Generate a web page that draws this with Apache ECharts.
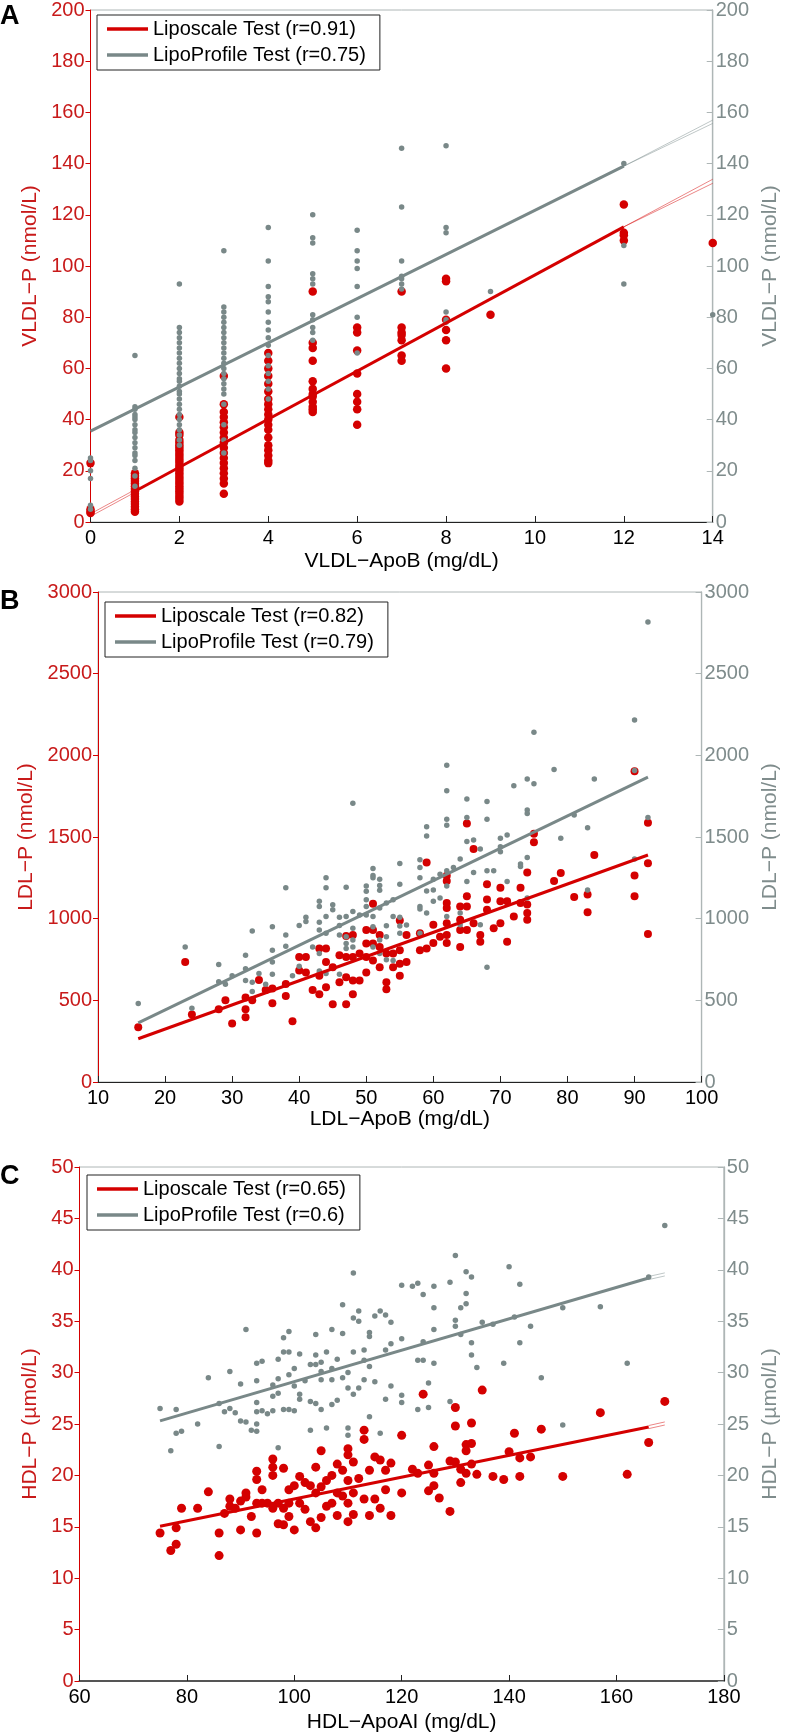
<!DOCTYPE html>
<html><head><meta charset="utf-8">
<script src="https://cdn.jsdelivr.net/npm/echarts@6/dist/echarts.min.js"></script>
<style>html,body{margin:0;padding:0;background:#fff}#c{width:789px;height:1734px}</style>
</head><body><div id="c"></div>
<script>
// ---------- Panel A: VLDL (columns: [x, [y values]]) ----------
const vldlRedCols = [
  [0, [23, 5, 4, 3.5]],
  [1, [19, 18, 17, 16, 15, 14, 13, 12, 11, 10, 9, 8, 7, 6, 5, 4]],
  [2, [41, 35, 34, 32, 31, 30, 29, 28, 27, 26, 25, 24, 23, 22, 21, 20, 19, 18, 17, 16, 15, 14, 13, 12, 11, 10, 9, 8]],
  [3, [57, 46, 43, 41, 39, 37, 35, 33, 31, 29, 27, 25, 23, 21, 19, 17, 15, 11]],
  [4, [66, 63, 60, 57, 54, 51, 48, 46, 44, 42, 40, 38, 36, 33, 30, 28, 26, 24, 23]],
  [5, [90, 70, 68, 63, 55, 52, 50, 49, 47, 45, 44, 43]],
  [6, [76, 74, 67, 58, 50, 47, 44, 38]],
  [7, [90, 76, 74, 73, 71, 65, 63]],
  [8, [95, 94, 79, 75, 71, 60]],
  [9, [81]],
  [12, [124, 113, 112, 110]],
  [14, [109]]
];
const vldlGrayCols = [
  [0, [25, 24, 20, 17, 6.5, 5]],
  [1, [65, 45, 44, 42, 41, 40, 38, 36, 35, 33, 31, 29, 27, 26, 24, 21, 18, 14]],
  [2, [93, 76, 74, 72, 70, 68, 66, 64, 62, 60, 58, 56, 55, 53, 51, 50, 48, 46, 44, 42, 40, 38, 36, 34, 32, 30]],
  [3, [106, 84, 82, 80, 78, 76, 74, 72, 70, 68, 66, 64, 62, 60, 58, 56, 54, 52, 50, 46, 38, 32, 27]],
  [4, [115, 102, 92, 88, 86, 82, 78, 75, 72, 69, 65, 61, 58, 55, 52, 48]],
  [5, [120, 111, 109, 97, 95, 93, 81, 79, 76, 74, 71]],
  [6, [114, 106, 102, 99, 92, 80, 66]],
  [7, [146, 123, 102, 96, 95, 93, 91]],
  [8, [147, 115, 113, 82, 79, 78]],
  [9, [90]],
  [12, [140, 108, 93]],
  [14, [81]]
];
const vldlRedFit = [[1, 12], [12, 115.3]];
const vldlRedFitThin = [[[0, 2.2], [1, 11.6]], [[0, 3.2], [1, 12.6]], [[12, 115.3], [14, 133.9]], [[12, 115.3], [14, 132.3]]];
const vldlGrayFit = [[0, 35.5], [12, 139]];
const vldlGrayFitThin = [[[12, 139], [14, 157]], [[12, 139], [14, 155.7]]];

// ---------- Panel B: LDL ----------
const ldlRed = [[16,335],[23,734],[24,414],[28,445],[29,501],[30,358],[32,517],[32,445],[32,397],[33,501],[34,625],[35,563],[36,573],[36,482],[38,600],[38,527],[39,372],[40,765],[40,683],[41,765],[41,670],[42,563],[43,817],[43,650],[43,538],[44,817],[44,734],[44,580],[45,703],[45,476],[46,776],[46,610],[47,894],[47,765],[47,641],[47,476],[48,900],[48,765],[48,621],[48,538],[49,786],[49,621],[50,931],[50,848],[50,765],[50,670],[51,1092],[51,931],[51,848],[51,744],[52,900],[52,827],[52,703],[53,786],[53,610],[53,568],[54,786],[54,703],[55,989],[55,807],[55,724],[55,651],[56,900],[56,734],
  [58,910],[58,807],[59,1344],[59,817],[60,962],[60,851],[61,889],[62,1262],[62,1231],[62,1096],[62,1065],[62,972],[62,900],[62,851],[64,1075],[64,993],[64,931],[64,827],[65,1582],[65,1138],[65,1075],[65,931],[66,1427],[66,972],[67,900],[67,858],[68,1210],[68,1117],[68,1055],[69,941],[70,1189],[70,1106],[70,972],[71,1106],[71,858],[72,1013],[73,1189],[73,1096],[74,1282],[74,1086],[74,1034],[74,993],[75,1520],[75,1468],[78,1231],[79,1279],[81,1133],[83,1148],[83,1040],[84,1390],[90,1903],[90,1265],[90,1138],[92,1588],[92,1340],[92,906]];
const ldlGray = [[16,480],[23,827],[24,451],[28,720],[28,614],[29,599],[30,650],[32,776],[32,693],[32,621],[33,925],[33,610],[33,554],[34,665],[35,599],[36,951],[36,807],[36,734],[36,660],[38,1189],[38,900],[38,831],[39,650],[40,958],[40,708],[41,1009],[41,982],[42,827],[43,1107],[43,1075],[43,978],[43,931],[43,786],[43,679],[44,1251],[44,1189],[44,1013],[44,910],[44,665],[45,1085],[45,1054],[46,1009],[46,958],[46,900],[46,660],[47,1193],[47,1013],[47,889],[47,848],[47,817],[48,1706],[48,1044],[48,941],[48,869],[48,827],[49,1023],[50,1200],[50,1168],[50,1116],[50,1075],[50,1023],[51,1307],[51,1265],[51,1251],[51,1013],[51,951],[51,827],[52,1241],[52,1203],[52,1174],[52,1065],[52,869],[52,786],[53,1096],[53,957],[53,889],[53,748],[54,1116],[54,1013],[54,744],[55,1338],[55,1210],[55,1009],[55,955],[55,910],[56,961],
  [58,1361],[58,1313],[58,1251],[58,1075],[58,1059],[58,910],[59,1562],[59,1506],[59,1169],[59,1034],[60,1241],[60,1175],[60,1106],[61,1272],[61,1127],[62,1940],[62,1783],[62,1609],[62,1572],[62,1293],[62,1200],[62,1013],[63,1313],[64,1365],[64,1034],[64,962],[65,1733],[65,1620],[65,1472],[65,1227],[66,1482],[66,1282],[67,1427],[67,962],[68,1717],[68,1609],[68,1293],[68,703],[69,1293],[70,1492],[70,1441],[70,1410],[71,1513],[71,1227],[72,1814],[73,1334],[73,1320],[74,1855],[74,1665],[74,1644],[74,1375],[74,1127],[75,2141],[75,1826],[78,1913],[79,1492],[81,1634],[83,1556],[83,1175],[84,1855],[90,2217],[90,1907],[90,1365],[92,2817],[92,1620]];
const ldlRedFit = [[16, 265], [92, 1390]];
const ldlGrayFit = [[16, 362], [92, 1866]];

// ---------- Panel C: HDL ----------
const hdlRed = [[75,14.4],[77,12.7],[78,13.3],[78,14.9],[79,16.8],[82,16.8],[84,18.4],[86,14.4],[86,12.2],[87,16.3],[88,17.7],[88,17.0],[89,16.8],[90,17.5],[90,14.7],[91,18.3],[91,17.9],[92,16.0],[93,20.4],[93,19.6],[93,17.3],[93,14.4],[94,18.6],[94,17.3],[95,17.3],[96,21.6],[96,20.8],[96,20.0],[96,16.8],[97,17.3],[97,15.3],[98,20.7],[98,16.8],[98,15.2],[99,18.6],[99,17.3],[99,16.0],[100,19.0],[100,14.7],[101,19.9],[101,17.3],[102,19.3],[102,16.7],[103,19.0],[103,15.5],[104,20.8],[104,18.3],[104,14.9],[105,22.4],[105,18.9],[105,15.9],[106,19.5],[106,17.0],[107,20.0],[107,17.3],[108,21.1],[108,18.3],[108,16.1],[109,20.5],[109,18.0],[110,22.6],[110,22.0],[110,19.5],[110,17.3],[110,15.5],[111,21.3],[111,18.3],[111,16.2],[112,19.7],[113,24.4],[113,23.5],[113,17.7],[114,20.5],[114,16.1],[115,21.8],[115,17.7],[116,21.5],[116,16.8],[117,20.5],[117,18.6],[118,21.2],[118,16.1],[120,23.9],[120,18.3],
  [122,20.6],[123,20.2],[124,27.9],[125,21.0],[125,18.5],[126,22.8],[126,20.2],[126,19.0],[127,17.8],[129,21.4],[129,16.5],[130,26.6],[130,24.8],[130,21.3],[131,20.6],[131,19.3],[132,23.0],[132,22.4],[132,20.2],[133,25.1],[133,23.1],[133,21.1],[134,20.1],[135,28.3],[137,19.9],[139,19.6],[140,22.3],[141,24.1],[142,21.7],[142,19.9],[144,21.8],[146,24.5],[150,19.9],[157,26.1],[162,20.1],[166,23.2],[169,27.2]];
const hdlGray = [[75,26.5],[77,22.4],[78,26.4],[78,24.1],[79,24.3],[82,25.0],[84,29.5],[86,27.0],[86,22.8],[87,26.2],[88,30.1],[88,26.5],[89,26.1],[90,28.9],[90,25.3],[91,34.2],[91,25.2],[92,24.4],[93,30.9],[93,29.2],[93,27.1],[93,26.2],[93,25.0],[93,24.3],[94,31.1],[94,26.3],[95,26.0],[96,28.8],[96,27.7],[96,26.3],[97,31.3],[97,29.4],[97,28.0],[97,22.7],[98,33.4],[98,32.0],[98,26.4],[99,34.0],[99,32.0],[99,29.8],[99,26.4],[100,30.4],[100,28.7],[100,26.3],[101,31.8],[101,27.9],[101,27.4],[102,29.2],[103,30.8],[103,27.2],[103,24.4],[104,33.7],[104,31.7],[104,30.8],[104,27.0],[105,31.0],[105,30.1],[105,29.3],[105,26.4],[106,32.0],[106,24.6],[107,34.2],[107,30.4],[107,29.3],[107,26.9],[108,31.3],[108,27.3],[109,36.6],[109,33.8],[109,29.5],[110,30.0],[110,28.5],[110,24.6],[110,23.9],[111,39.7],[111,35.3],[111,32.0],[111,27.9],[112,36.0],[112,35.0],[112,28.5],[113,32.2],[113,31.2],[113,29.3],[114,33.9],[114,33.5],[114,30.6],[114,25.7],[115,35.5],[115,29.1],[116,36.0],[116,24.1],[117,35.6],[117,32.2],[117,27.4],[118,34.9],[118,32.8],[118,28.7],[120,38.5],[120,33.3],[120,27.8],[120,27.1],
  [122,38.4],[123,38.7],[123,31.2],[123,26.4],[124,37.6],[124,33.0],[124,31.2],[125,29.0],[125,26.6],[126,38.4],[126,36.3],[126,34.2],[126,30.9],[129,38.8],[129,27.2],[130,41.4],[130,35.1],[130,34.5],[131,36.3],[131,33.7],[132,39.8],[132,37.7],[132,36.7],[133,39.3],[133,32.9],[133,31.7],[134,30.5],[135,34.9],[137,34.7],[139,30.9],[140,40.3],[141,35.4],[142,38.6],[142,32.9],[144,34.5],[146,29.5],[150,36.3],[150,24.9],[157,36.4],[162,30.9],[166,39.3],[169,44.3]];
const hdlRedFit = [[75, 15.06], [166, 24.7]];
const hdlRedFitThin = [[[166, 24.55], [169, 24.9]], [[166, 24.85], [169, 25.2]]];
const hdlGrayFit = [[75, 25.3], [166, 39.2]];
const hdlGrayFitThin = [[[166, 39.05], [169, 39.4]], [[166, 39.35], [169, 39.7]]];

// ---------- labels ----------
const panelLetters = ['A', 'B', 'C'];
const xNames = ['VLDL\u2212ApoB (mg/dL)', 'LDL\u2212ApoB (mg/dL)', 'HDL\u2212ApoAI (mg/dL)'];
const yNames = ['VLDL\u2212P (nmol/L)', 'LDL\u2212P (nmol/L)', 'HDL\u2212P (\u00b5mol/L)'];
const redNames = ['Liposcale Test (r=0.91)', 'Liposcale Test (r=0.82)', 'Liposcale Test (r=0.65)'];
const grayNames = ['LipoProfile Test (r=0.75)', 'LipoProfile Test (r=0.79)', 'LipoProfile Test (r=0.6)'];
const xMin = [0, 10, 60], xMax = [14, 100, 180], xStep = [2, 10, 20];
const yMax = [200, 3000, 50], yStep = [20, 500, 5];

// ---------- styling / layout ----------
const RED = '#d40000', GRAY = '#798888', REDTXT = '#c81a1a', GRAYTXT = '#7f8c8c', AXGRAY = '#aeb6b6';
const FONT = '"Liberation Sans", Arial, Helvetica, sans-serif';
const grids = [
  {left: 90.5, top: 9, width: 639, height: 513},
  {left: 98, top: 592, width: 619, height: 490},
  {left: 79.5, top: 1167, width: 651, height: 515}
];
const xNameGap = [29, 25, 31];
const yLeftGap = [47, 55, 36];
const yRightGap = [35, 46, 34];
const legendPos = [{left: 97, top: 15}, {left: 105, top: 602}, {left: 87, top: 1175}];
const letterTop = [3, 588, 1163];
const redSize = [8.5, 8, 9], graySize = [5.5, 5.5, 5.5];

const flat = cols => cols.flatMap(([x, ys]) => ys.map(y => [x, y]));
const reds = [flat(vldlRedCols), ldlRed, hdlRed];
const grays = [flat(vldlGrayCols), ldlGray, hdlGray];
const redFits = [vldlRedFit, ldlRedFit, hdlRedFit];
const grayFits = [vldlGrayFit, ldlGrayFit, hdlGrayFit];
const redThin = [vldlRedFitThin, [], hdlRedFitThin];
const grayThin = [vldlGrayFitThin, [], hdlGrayFitThin];
const plain = v => String(v);

const option = {
  animation: false,
  backgroundColor: '#fff',
  grid: [], xAxis: [], yAxis: [], series: [], legend: [], graphic: []
};

for (let i = 0; i < 3; i++) {
  option.grid.push(Object.assign({show: true, borderColor: AXGRAY, borderWidth: 1, backgroundColor: 'transparent'}, grids[i]));
  option.xAxis.push({
    gridIndex: i, type: 'value', min: xMin[i], max: xMax[i], interval: xStep[i], position: 'bottom',
    axisLine: {show: true, onZero: false, lineStyle: {color: i === 2 ? '#555' : '#222', width: i === 2 ? 2 : 1.2}},
    axisTick: {show: true, inside: true, length: 6, lineStyle: {color: '#222'}},
    axisLabel: {color: '#000', fontSize: 20, fontFamily: FONT, margin: 6, formatter: plain},
    splitLine: {show: false},
    name: xNames[i], nameLocation: 'middle', nameGap: xNameGap[i],
    nameTextStyle: {color: '#000', fontSize: 21, fontFamily: FONT}
  });
  option.yAxis.push({
    gridIndex: i, type: 'value', min: 0, max: yMax[i], interval: yStep[i], position: 'left',
    axisLine: {show: true, lineStyle: {color: RED, width: 1}},
    axisTick: {show: true, inside: false, length: 5, lineStyle: {color: RED}},
    axisLabel: {color: REDTXT, fontSize: 20, fontFamily: FONT, margin: 6, formatter: plain},
    splitLine: {show: false},
    name: yNames[i], nameLocation: 'middle', nameRotate: 90, nameGap: yLeftGap[i],
    nameTextStyle: {color: REDTXT, fontSize: 21, fontFamily: FONT}
  });
  option.yAxis.push({
    gridIndex: i, type: 'value', min: 0, max: yMax[i], interval: yStep[i], position: 'right',
    axisLine: {show: true, lineStyle: {color: AXGRAY, width: 1.3}},
    axisTick: {show: true, inside: true, length: 6, lineStyle: {color: AXGRAY}},
    axisLabel: {color: GRAYTXT, fontSize: 20, fontFamily: FONT, margin: 3, formatter: plain},
    splitLine: {show: false},
    name: yNames[i], nameLocation: 'middle', nameRotate: 90, nameGap: yRightGap[i],
    nameTextStyle: {color: GRAYTXT, fontSize: 21, fontFamily: FONT}
  });
  const yl = 2 * i, yr = 2 * i + 1;
  option.series.push({
    type: 'scatter', xAxisIndex: i, yAxisIndex: yl, data: reds[i], symbolSize: redSize[i],
    itemStyle: {color: RED, opacity: 1}, silent: true, z: 2
  });
  option.series.push({
    type: 'scatter', xAxisIndex: i, yAxisIndex: yr, data: grays[i], symbolSize: graySize[i],
    itemStyle: {color: GRAY, opacity: 1}, silent: true, z: 3
  });
  option.series.push({
    type: 'line', name: redNames[i], xAxisIndex: i, yAxisIndex: yl, data: redFits[i], symbol: 'none',
    color: RED, itemStyle: {color: RED}, lineStyle: {color: RED, width: 3}, silent: true, z: 4
  });
  option.series.push({
    type: 'line', name: grayNames[i], xAxisIndex: i, yAxisIndex: yr, data: grayFits[i], symbol: 'none',
    color: GRAY, itemStyle: {color: GRAY}, lineStyle: {color: GRAY, width: 3}, silent: true, z: 4
  });
  redThin[i].forEach(seg => option.series.push({
    type: 'line', xAxisIndex: i, yAxisIndex: yl, data: seg, symbol: 'none',
    lineStyle: {color: RED, width: 0.8, opacity: 0.6}, silent: true, z: 4
  }));
  grayThin[i].forEach(seg => option.series.push({
    type: 'line', xAxisIndex: i, yAxisIndex: yr, data: seg, symbol: 'none',
    lineStyle: {color: GRAY, width: 0.8, opacity: 0.6}, silent: true, z: 4
  }));
  option.legend.push({
    orient: 'vertical', left: legendPos[i].left, top: legendPos[i].top,
    data: [redNames[i], grayNames[i]], icon: 'rect', itemWidth: 41, itemHeight: 3.5, itemGap: 6,
    padding: [4, 14, 5, 10], backgroundColor: '#fff', borderColor: '#222', borderWidth: 1,
    textStyle: {fontSize: 20, fontFamily: FONT, color: '#000'}, selectedMode: false, z: 10
  });
  option.graphic.push({
    type: 'text', left: 0, top: letterTop[i],
    style: {text: panelLetters[i], font: 'bold 27px "Liberation Sans", Arial, sans-serif', fill: '#000'}
  });
}

const chart = echarts.init(document.getElementById('c'), null, {renderer: 'canvas'});
chart.setOption(option);
</script>
</body></html>
